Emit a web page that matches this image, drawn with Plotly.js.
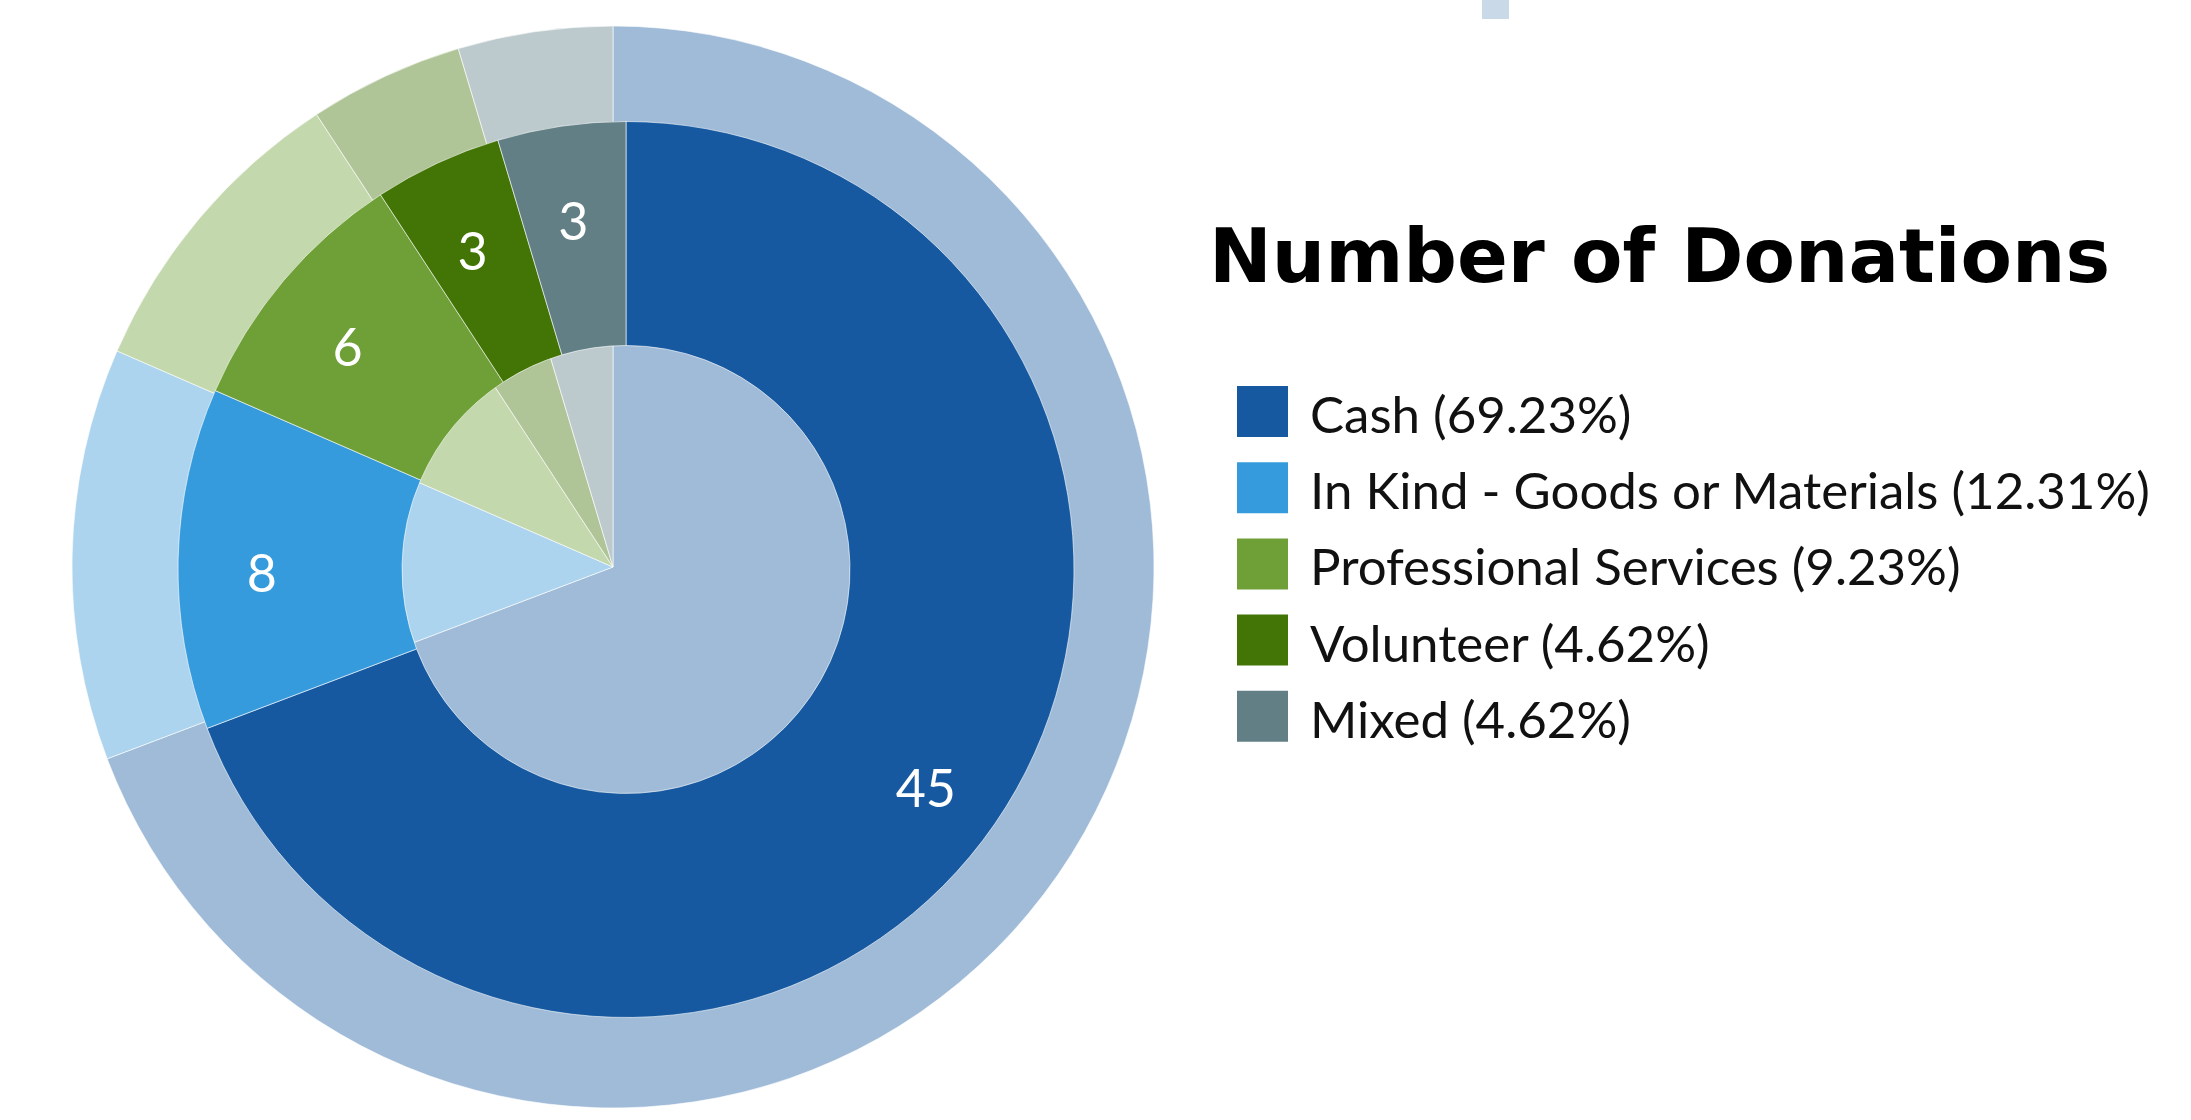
<!DOCTYPE html>
<html><head><meta charset="utf-8">
<script src="https://cdn.plot.ly/plotly-3.0.1.min.js"></script>
<style>html,body{margin:0;padding:0;background:#fff;overflow:hidden;} #chart{width:2191px;height:1120px;}</style>
</head><body><div id="chart"></div>
<script>
// ---- data ----
const categories = ['Cash', 'In Kind - Goods or Materials', 'Professional Services', 'Volunteer', 'Mixed'];
const donations = [45, 8, 6, 3, 3];
const darkColors = ['#1659A0', '#369BDC', '#6FA038', '#427505', '#617F85'];
const lightColors = ['#9FBBD8', '#ACD4EE', '#C4D8AE', '#AFC597', '#BDCACD'];
const legendTitle = 'Number of Donations';

// ---- geometry ----
const W = 2191, H = 1120;
function dom(cx, cy, r) {
  return { x: [(cx - r) / W, (cx + r) / W], y: [1 - (cy + r) / H, 1 - (cy - r) / H] };
}
const sliceLine = { color: 'rgba(255,255,255,0.6)', width: 1 };
const common = { type: 'pie', values: donations, labels: categories, sort: false,
  direction: 'clockwise', rotation: 0, showlegend: false };

const outer = Object.assign({}, common, {
  marker: { colors: lightColors, line: sliceLine }, textinfo: 'none', hole: 0,
  domain: dom(613, 567, 541), hoverinfo: 'label+value'
});
const middle = Object.assign({}, common, {
  marker: { colors: darkColors, line: sliceLine }, textinfo: 'none', hole: 0.5,
  domain: dom(626, 569.5, 448), hoverinfo: 'label+value'
});
const labelRing = Object.assign({}, common, {
  marker: { colors: donations.map(() => 'rgba(0,0,0,0)'), line: { width: 0 } },
  textinfo: 'value', textposition: 'inside', insidetextorientation: 'horizontal',
  textfont: { family: 'Lato, sans-serif', size: 52, color: '#ffffff' },
  hole: 0.76, domain: dom(626, 580.5, 414), hoverinfo: 'skip'
});

// ---- legend (custom) ----
const total = donations.reduce((a, b) => a + b, 0);
const shapes = [];
const annotations = [];
const rowTop0 = 386, rowStep = 76.2, sw = 51;
categories.forEach((c, i) => {
  const top = rowTop0 + i * rowStep;
  shapes.push({ type: 'rect', xref: 'paper', yref: 'paper',
    x0: 1237 / W, x1: (1237 + sw) / W, y0: 1 - (top + sw) / H, y1: 1 - top / H,
    fillcolor: darkColors[i], line: { width: 0 } });
  annotations.push({ xref: 'paper', yref: 'paper', x: 1308 / W, y: 1 - (top + sw / 2 + 2) / H,
    xanchor: 'left', yanchor: 'middle', showarrow: false,
    text: c + ' (' + (donations[i] / total * 100).toFixed(2) + '%)',
    font: { family: 'Lato, sans-serif', size: 51, color: '#111111' } });
});
annotations.push({ xref: 'paper', yref: 'paper', x: 1207 / W, y: 1 - 256 / H,
  xanchor: 'left', yanchor: 'middle', showarrow: false, text: '<b>' + legendTitle + '</b>',
  font: { family: 'DejaVu Sans, sans-serif', size: 75, color: '#000000' } });
// small cut-off marker at top
shapes.push({ type: 'rect', xref: 'paper', yref: 'paper', x0: 1482 / W, x1: 1509 / W,
  y0: 1 - 19 / H, y1: 1, fillcolor: '#C9D9E8', line: { width: 0 } });

const layout = {
  width: W, height: H, margin: { l: 0, r: 0, t: 0, b: 0 },
  paper_bgcolor: '#ffffff', plot_bgcolor: '#ffffff',
  showlegend: false, shapes: shapes, annotations: annotations
};
Plotly.newPlot('chart', [outer, middle, labelRing], layout, { displayModeBar: false, staticPlot: true });
</script></body></html>
